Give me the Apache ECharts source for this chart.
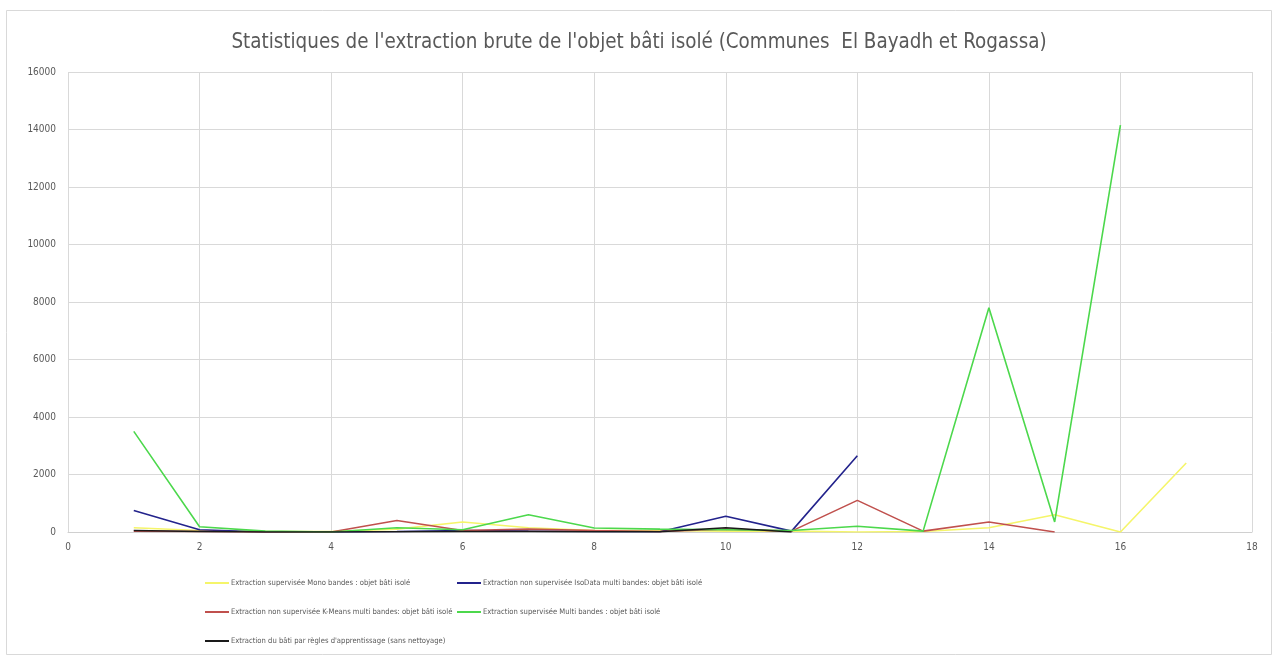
<!DOCTYPE html>
<html>
<head>
<meta charset="utf-8">
<script src="https://cdn.jsdelivr.net/npm/echarts@6/dist/echarts.min.js"></script>
<style>
html,body{margin:0;padding:0;background:#fff;}
#c{width:1278px;height:660px;}
</style>
</head>
<body>
<div id="c"></div>
<script>
const titleText = "Statistiques de l'extraction brute de l'objet bâti isolé (Communes  El Bayadh et Rogassa)";
const seriesNames = [
  "Extraction supervisée Mono bandes : objet bâti isolé",
  "Extraction non supervisée IsoData multi bandes: objet bâti isolé",
  "Extraction non supervisée K-Means multi bandes: objet bâti isolé",
  "Extraction supervisée Multi bandes : objet bâti isolé",
  "Extraction du bâti par règles d'apprentissage (sans nettoyage)"
];
const xValues = [1,2,3,4,5,6,7,8,9,10,11,12,13,14,15,16,17];
const monoValues    = [150,50,20,20,100,350,150,50,50,30,30,0,20,150,600,0,2400];
const isoDataValues = [750,80,0,0,20,50,30,20,10,550,30,2650];
const kMeansValues  = [30,20,0,0,400,50,100,50,20,100,30,1100,30,350,0];
const multiValues   = [3500,180,30,0,150,80,600,140,100,80,50,200,30,7800,350,14150];
const reglesValues  = [50,20,0,0,10,20,20,10,10,150,0];
const colors = ['#f5f56a','#23238c','#c0504d','#4cd84c','#1a1a1a'];
const xTicks = {min:0,max:18,interval:2};
const yTicks = {min:0,max:16000,interval:2000};

const allValues = [monoValues, isoDataValues, kMeansValues, multiValues, reglesValues];
const FONT = "'Liberation Sans Narrow','DejaVu Sans Condensed','Open Sans',sans-serif";

const chart = echarts.init(document.getElementById('c'), null, {renderer:'canvas'});

const series = allValues.map((vals, i) => ({
  name: seriesNames[i],
  type: 'line',
  data: vals.map((v, k) => [xValues[k], v]),
  showSymbol: false,
  symbol: 'none',
  lineStyle: {width: 1.6, color: colors[i]},
  itemStyle: {color: colors[i]},
  z: 2 + i,
  animation: false
}));

const legendPos = [
  {left: 205, top: 579},
  {left: 457, top: 579},
  {left: 205, top: 608},
  {left: 457, top: 608},
  {left: 205, top: 637}
];
const legends = seriesNames.map((n, i) => ({
  data: [n],
  left: legendPos[i].left,
  top: legendPos[i].top,
  orient: 'horizontal',
  itemWidth: 24,
  itemHeight: 2,
  itemGap: 0,
  padding: 0,
  icon: 'rect',
  selectedMode: false,
  textStyle: {fontSize: 7.6, color: '#595959', fontFamily: FONT, padding: [0,0,0,-3]}
}));

chart.setOption({
  backgroundColor: '#fff',
  animation: false,
  title: {
    text: titleText,
    left: 'center',
    top: 28,
    textStyle: {fontSize: 20.4, fontWeight: 'normal', color: '#595959', fontFamily: FONT}
  },
  graphic: [{
    type: 'rect',
    shape: {x: 6.5, y: 10.5, width: 1265, height: 644},
    style: {fill: 'none', stroke: '#d9d9d9', lineWidth: 1},
    silent: true
  }],
  legend: legends,
  grid: {left: 68, right: 26, top: 72, bottom: 128, containLabel: false},
  xAxis: {
    type: 'value',
    min: xTicks.min, max: xTicks.max, interval: xTicks.interval,
    axisLine: {show: true, onZero: false, lineStyle: {color: '#d0d0d0', width: 1}},
    axisTick: {show: false},
    axisLabel: {color: '#595959', fontSize: 10, fontFamily: FONT, margin: 10},
    splitLine: {show: true, lineStyle: {color: '#d9d9d9', width: 1}}
  },
  yAxis: {
    type: 'value',
    min: yTicks.min, max: yTicks.max, interval: yTicks.interval,
    axisLine: {show: false},
    axisTick: {show: false},
    axisLabel: {color: '#595959', fontSize: 10, fontFamily: FONT, margin: 12, formatter: v => String(v)},
    splitLine: {show: true, lineStyle: {color: '#d9d9d9', width: 1}}
  },
  series: series
});
</script>
</body>
</html>
